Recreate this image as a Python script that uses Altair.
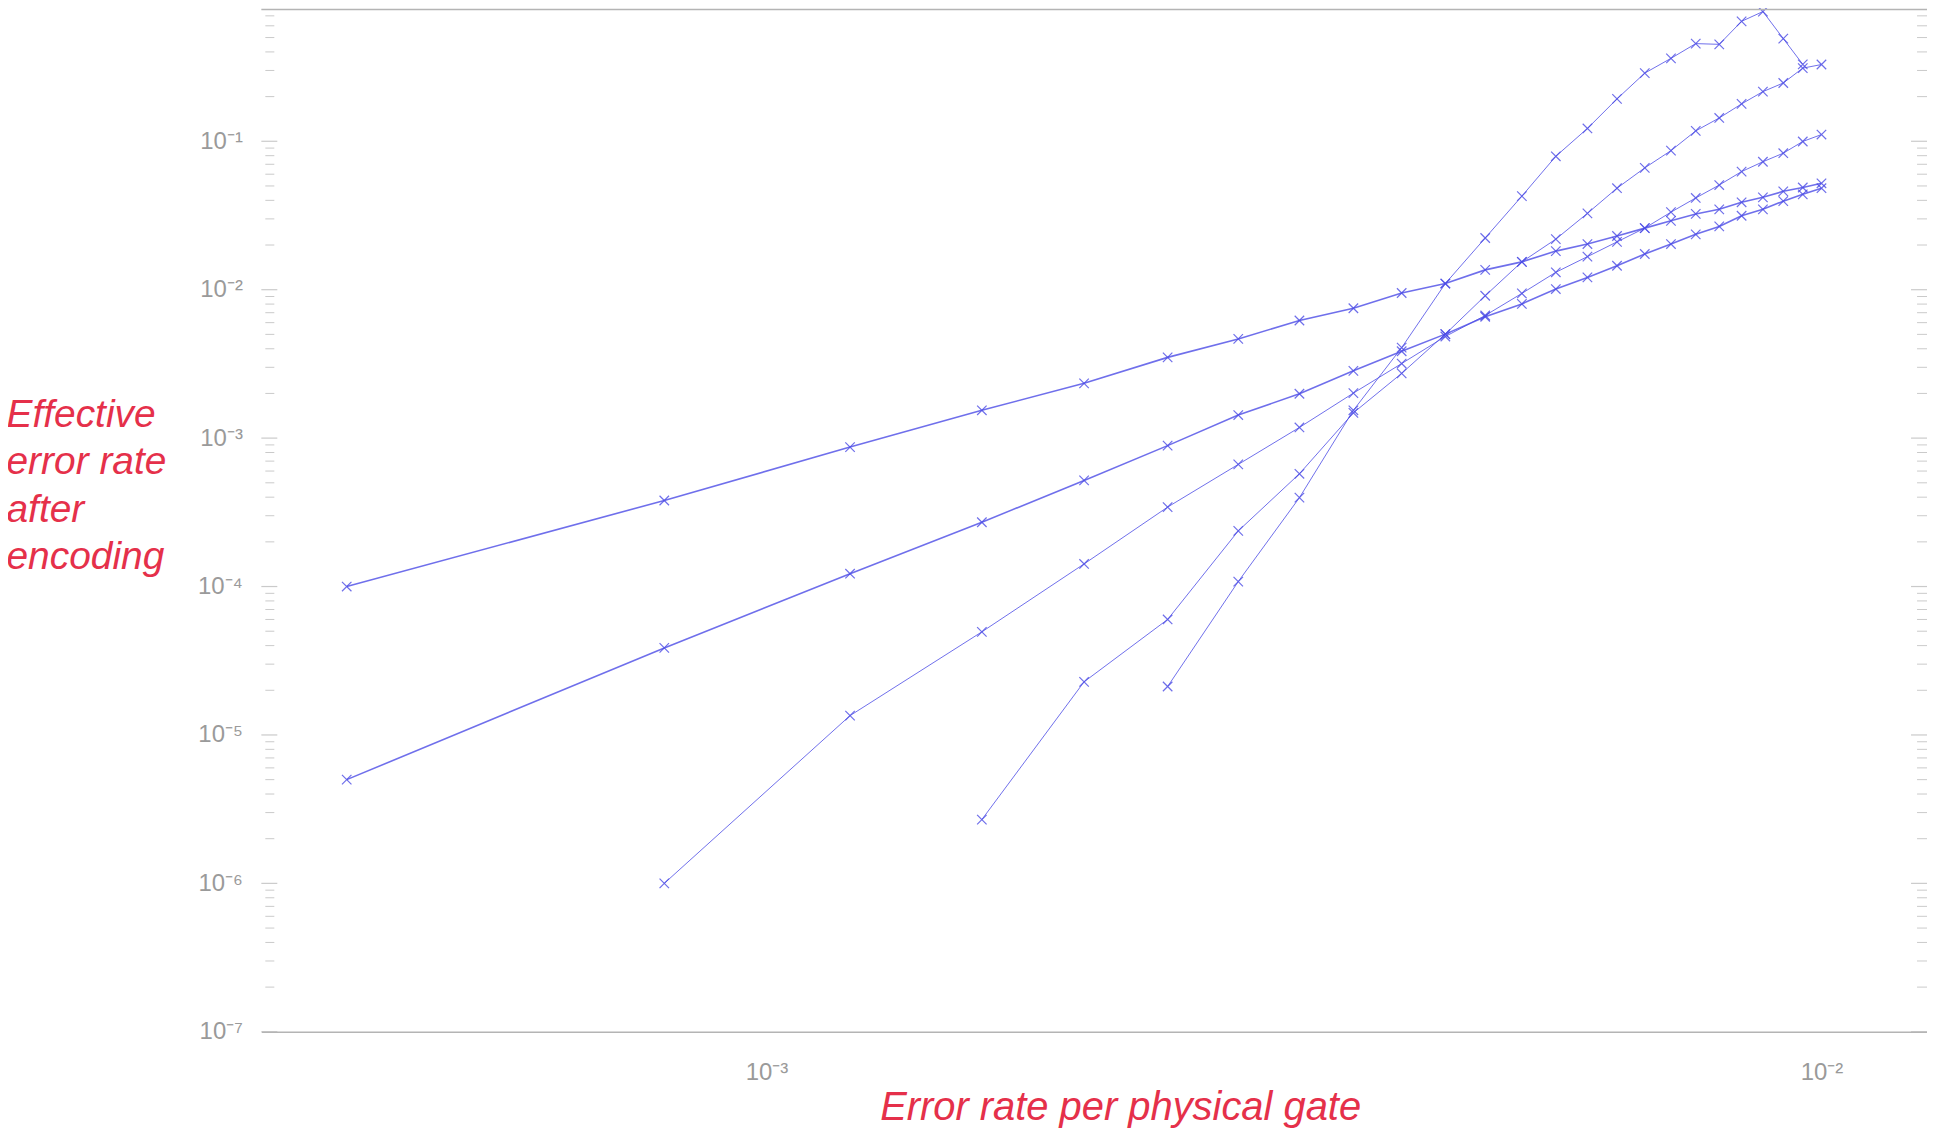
import altair as alt
import pandas as pd

# ---------------- data ----------------
x_rate = [0.0004, 0.0008, 0.0012, 0.0016, 0.0020, 0.0024, 0.0028, 0.0032, 0.0036,
          0.0040, 0.0044, 0.0048, 0.0052, 0.0056, 0.0060, 0.0064, 0.0068, 0.0072,
          0.0076, 0.0080, 0.0084, 0.0088, 0.0092, 0.0096, 0.0100]

level_1 = [1.0e-4, 3.8e-4, 8.7e-4, 1.54e-3, 2.34e-3, 3.5e-3, 4.66e-3, 6.2e-3, 7.5e-3,
           9.5e-3, 1.10e-2, 1.36e-2, 1.54e-2, 1.82e-2, 2.03e-2, 2.30e-2, 2.60e-2, 2.91e-2,
           3.24e-2, 3.48e-2, 3.88e-2, 4.19e-2, 4.60e-2, 4.88e-2, 5.21e-2]

level_2 = [5.0e-6, 3.86e-5, 1.22e-4, 2.71e-4, 5.19e-4, 8.9e-4, 1.43e-3, 1.99e-3, 2.84e-3,
           3.85e-3, 5.02e-3, 6.57e-3, 8.02e-3, 1.01e-2, 1.21e-2, 1.45e-2, 1.74e-2, 2.03e-2,
           2.36e-2, 2.67e-2, 3.15e-2, 3.48e-2, 3.95e-2, 4.39e-2, 4.83e-2]

level_3 = [None, 1.0e-6, 1.35e-5, 4.95e-5, 1.42e-4, 3.43e-4, 6.65e-4, 1.18e-3, 2.01e-3,
           3.18e-3, 4.84e-3, 6.70e-3, 9.44e-3, 1.31e-2, 1.67e-2, 2.10e-2, 2.60e-2, 3.33e-2,
           4.15e-2, 5.07e-2, 6.25e-2, 7.28e-2, 8.31e-2, 9.97e-2, 0.111]

level_4 = [None, None, None, 2.69e-6, 2.28e-5, 6.0e-5, 2.37e-4, 5.75e-4, 1.48e-3,
           2.73e-3, 5.02e-3, 9.1e-3, 1.54e-2, 2.19e-2, 3.27e-2, 4.83e-2, 6.62e-2, 8.65e-2,
           0.1175, 0.1436, 0.1786, 0.216, 0.247, 0.311, 0.329]

level_5 = [None, None, None, None, None, 2.12e-5, 1.08e-4, 3.97e-4, 1.54e-3,
           4.07e-3, 1.10e-2, 2.23e-2, 4.27e-2, 7.92e-2, 0.122, 0.193, 0.288, 0.362,
           0.455, 0.450, 0.643, 0.748, 0.492, 0.33, None]

series_names = ["L1", "L2", "L3", "L4", "L5"]
series_widths = [1.6, 1.6, 1.0, 1.0, 1.0]

y_decades = [1e-7, 1e-6, 1e-5, 1e-4, 1e-3, 1e-2, 1e-1]
y_labels = ["10⁻⁷", "10⁻⁶", "10⁻⁵", "10⁻⁴", "10⁻³", "10⁻²", "10⁻¹"]
minor_mult = [2, 3, 4, 5, 6, 7, 8, 9]
x_ticks = [0.001, 0.01]
x_labels = ["10⁻³", "10⁻²"]

X_MIN, X_MAX = 3.32e-4, 0.01259
Y_MIN, Y_TOP = 1e-7, 0.773

# ---------------- build tables ----------------
rows = []
for name, ys, w in zip(series_names, [level_1, level_2, level_3, level_4, level_5], series_widths):
    for x, y in zip(x_rate, ys):
        if y is not None:
            rows.append({"series": name, "x": x, "y": y, "w": w})
df = pd.DataFrame(rows)

minor_vals = [d * m for d in y_decades for m in minor_mult if d * m <= Y_TOP]
major_df = pd.DataFrame({"v": y_decades})
minor_df = pd.DataFrame({"v": minor_vals})
top_df = pd.DataFrame({"x1": [X_MIN], "x2": [X_MAX], "v": [Y_TOP]})

W, H = 1670, 1025
BLUE = "#4b4be6"
GREY = "#b4b4b4"
RED = "#e5304a"
FONT = "Liberation Sans"

xscale = alt.Scale(type="log", domain=[X_MIN, X_MAX], nice=False)
yscale = alt.Scale(type="log", domain=[Y_MIN, Y_TOP], nice=False)

x_label_expr = "datum.value < 0.003 ? '%s' : '%s'" % (x_labels[0], x_labels[1])
y_label_expr = "[" + ",".join("'%s'" % s for s in y_labels) + "][round(log(datum.value)/LN10)+7]"

xaxis = alt.Axis(values=x_ticks, labelExpr=x_label_expr, ticks=False, tickSize=0, grid=False,
                 domain=True, domainColor=GREY, domainWidth=1.5,
                 labelFont=FONT, labelFontSize=24, labelColor="#9a9a9a", labelPadding=29,
                 titleFont=FONT, titleFontSize=40, titleFontStyle="italic",
                 titleFontWeight="normal", titleColor=RED,
                 titleX=861, titleY=88, titleAlign="center", titleBaseline="alphabetic")

yaxis = alt.Axis(values=y_decades, labelExpr=y_label_expr, ticks=False, tickSize=0, grid=False,
                 domain=False, labelFont=FONT, labelFontSize=24,
                 labelColor="#9a9a9a", labelPadding=19,
                 titleFont=FONT, titleFontSize=39, titleFontStyle="italic",
                 titleFontWeight="normal", titleColor=RED, titleAngle=0,
                 titleAlign="left", titleBaseline="alphabetic",
                 titleX=-256, titleY=418, titleLineHeight=47.5)

base = alt.Chart(df)

lines = base.mark_line(color=BLUE, opacity=0.8).encode(
    x=alt.X("x:Q", scale=xscale, axis=xaxis, title="Error rate per physical gate"),
    y=alt.Y("y:Q", scale=yscale, axis=yaxis,
            title=["Effective", "error rate", "after", "encoding"]),
    detail="series:N",
    order="x:Q",
    strokeWidth=alt.StrokeWidth("w:Q", scale=None, legend=None),
)

points = base.mark_point(shape="M-1,-1L1,1M-1,1L1,-1", filled=False, size=90,
                         color=BLUE, strokeWidth=1.2, opacity=0.8).encode(
    x=alt.X("x:Q", scale=xscale, axis=xaxis),
    y=alt.Y("y:Q", scale=yscale, axis=yaxis),
)

left_major = alt.Chart(major_df).mark_tick(color=GREY, orient="horizontal", size=16,
                                           thickness=1.2).encode(
    y=alt.Y("v:Q", scale=yscale, axis=yaxis), x=alt.value(8))
left_minor = alt.Chart(minor_df).mark_tick(color=GREY, orient="horizontal", size=9,
                                           thickness=1).encode(
    y=alt.Y("v:Q", scale=yscale, axis=yaxis), x=alt.value(8.5))
right_major = alt.Chart(major_df).mark_tick(color=GREY, orient="horizontal", size=16,
                                            thickness=1.2).encode(
    y=alt.Y("v:Q", scale=yscale, axis=yaxis), x=alt.value(W - 8))
right_minor = alt.Chart(minor_df).mark_tick(color=GREY, orient="horizontal", size=10,
                                            thickness=1).encode(
    y=alt.Y("v:Q", scale=yscale, axis=yaxis), x=alt.value(W - 5))

top_line = alt.Chart(top_df).mark_rule(color=GREY, strokeWidth=1.5).encode(
    x=alt.X("x1:Q", scale=xscale, axis=xaxis), x2="x2:Q",
    y=alt.Y("v:Q", scale=yscale, axis=yaxis))

chart = alt.layer(
    lines, points, left_major, left_minor, right_major, right_minor, top_line
).properties(
    width=W, height=H,
    background="white",
    autosize=alt.AutoSizeParams(type="none"),
    padding={"left": 254, "top": 0, "right": 0, "bottom": 96},
).configure_view(
    stroke="transparent", strokeWidth=0
).configure_axisY(
    domain=False, grid=False, ticks=False
)

chart.save("out.html", embed_options={"renderer": "svg", "actions": False})
